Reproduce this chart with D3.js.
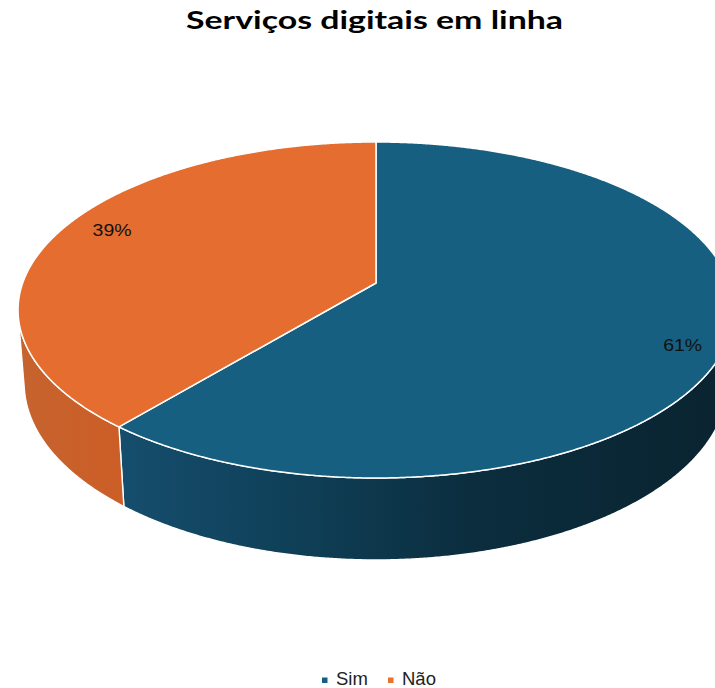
<!DOCTYPE html>
<html>
<head>
<meta charset="utf-8">
<script src="https://cdn.jsdelivr.net/npm/d3@7"></script>
<style>
  html, body { margin: 0; padding: 0; background: #ffffff; }
  svg { display: block; }
</style>
</head>
<body>
<svg id="chart" width="715" height="688"></svg>
<script>
// Data
const categories = ["Sim", "Não"];
const values = [61, 39];
const labels = ["61%", "39%"];
const topColors = ["#165f80", "#e46d2f"];
const legendColors = ["#156082", "#e97132"];
const wallStops = [
  [["0", "#154e6d"], ["0.3", "#0f3f57"], ["0.6", "#0b2d3d"], ["1", "#0a2431"]],
  [["0", "#c6632e"], ["1", "#cc5e27"]]
];
const titleText = "Serviços digitais em linha";

const W = 715, H = 688;
const svg = d3.select("#chart");

// Perspective projection of a unit disc (top face h=0, bottom face h=1)
const CX = 376, CY = 283;
const A = 353.3, B = 163.66, C = -0.1607;
const G = 0.017, M = 73.5;
function proj(theta, r, h) {
  const u = r * Math.sin(theta), v = -r * Math.cos(theta);
  const w = 1 + C * v + G * h;
  return [CX + A * u / w, CY + (B * v + M * h) / w];
}

const pie = d3.pie().sort(null).value(d => d.value);
const arcs = pie(categories.map((c, i) => ({ cat: c, value: values[i], i })));

// Angular range where the outer wall faces the viewer
function facing(t) {
  const d = 0.001;
  const p0 = proj(t, 1, 0), p1 = proj(t + d, 1, 0), q0 = proj(t, 1, 1);
  const cross = (p1[0] - p0[0]) * (q0[1] - p0[1]) - (p1[1] - p0[1]) * (q0[0] - p0[0]);
  return cross < 0;
}
let f0 = null, f1 = null;
for (let t = 0; t <= 2 * Math.PI; t += 0.0005) {
  if (facing(t)) { if (f0 === null) f0 = t; f1 = t; }
}

const defs = svg.append("defs");
wallStops.forEach((stops, i) => {
  const g = defs.append("linearGradient")
    .attr("id", "wall" + i)
    .attr("gradientUnits", "userSpaceOnUse")
    .attr("x1", i === 0 ? 120 : 18).attr("x2", i === 0 ? 715 : 125)
    .attr("y1", 0).attr("y2", 0);
  stops.forEach(s => g.append("stop").attr("offset", s[0]).attr("stop-color", s[1]));
});

function sampleArc(a, b, r, h) {
  const n = Math.max(2, Math.ceil(Math.abs(b - a) / 0.005));
  const pts = [];
  for (let k = 0; k <= n; k++) pts.push(proj(a + (b - a) * k / n, r, h));
  return pts;
}
const line = d3.line().curve(d3.curveLinear);

// Outer walls
const gWalls = svg.append("g");
arcs.forEach(d => {
  const a = Math.max(d.startAngle, f0), b = Math.min(d.endAngle, f1);
  if (b <= a) return;
  const pts = sampleArc(a, b, 1, 0).concat(sampleArc(b, a, 1, 1));
  gWalls.append("path")
    .attr("d", line(pts) + "Z")
    .attr("fill", `url(#wall${d.data.i})`)
    .attr("stroke", "#ffffff")
    .attr("stroke-width", 1.4)
    .attr("stroke-linejoin", "round");
});

// Top faces
const gTop = svg.append("g");
arcs.forEach(d => {
  const pts = [proj(0, 0, 0)].concat(sampleArc(d.startAngle, d.endAngle, 1, 0));
  gTop.append("path")
    .attr("d", line(pts) + "Z")
    .attr("fill", topColors[d.data.i])
    .attr("stroke", "#ffffff")
    .attr("stroke-width", 1.5)
    .attr("stroke-linejoin", "round");
});

// Data labels, placed near the rim of each slice
const labelPos = [
  { r: 0.93, dt: 0.12, dx: -8, dy: -11 },
  { r: 0.85, dt: -0.03, dx: 10, dy: -11 }
];
arcs.forEach(d => {
  const lp = labelPos[d.data.i];
  const mid = (d.startAngle + d.endAngle) / 2 + lp.dt;
  const p = proj(mid, lp.r, 0);
  svg.append("text")
    .attr("x", p[0] + lp.dx).attr("y", p[1] + lp.dy)
    .attr("text-anchor", "middle")
    .attr("dominant-baseline", "central")
    .attr("font-family", "'Liberation Sans', Arial, sans-serif")
    .attr("font-size", 17)
    .attr("textLength", 39)
    .attr("lengthAdjust", "spacingAndGlyphs")
    .attr("fill", "#111111")
    .text(labels[d.data.i]);
});

// Title
svg.append("text")
  .attr("x", 374.5).attr("y", 29)
  .attr("text-anchor", "middle")
  .attr("font-family", "Lato, 'Liberation Sans', Arial, sans-serif")
  .attr("font-weight", "bold")
  .attr("font-size", 25)
  .attr("textLength", 377)
  .attr("lengthAdjust", "spacingAndGlyphs")
  .attr("fill", "#000000")
  .text(titleText);

// Legend
const legendX = [322, 388];
const gLeg = svg.append("g");
categories.forEach((c, i) => {
  gLeg.append("rect")
    .attr("x", legendX[i]).attr("y", 677.5)
    .attr("width", 5.5).attr("height", 5.5)
    .attr("fill", legendColors[i]);
  gLeg.append("text")
    .attr("x", legendX[i] + 14).attr("y", 685)
    .attr("font-family", "'Liberation Sans', Arial, sans-serif")
    .attr("font-size", 18.5)
    .attr("fill", "#222222")
    .text(c);
});
</script>
</body>
</html>
